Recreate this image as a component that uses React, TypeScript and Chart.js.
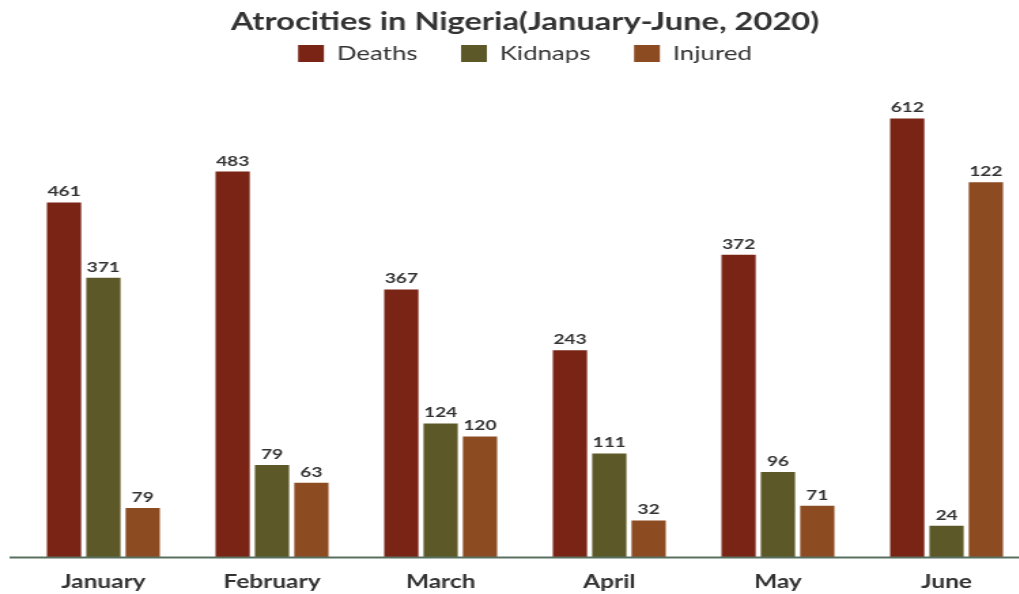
import React, { useEffect, useRef } from "react";
import { Chart, registerables } from "chart.js";

Chart.register(...registerables);

// ---- data ----
const categories = ["January", "February", "March", "April", "May", "June"];
const seriesNames = ["Deaths", "Kidnaps", "Injured"];
const seriesColors = ["#7a2416", "#5d5827", "#8d4b22"];

// values printed above the bars
const deathsLabels = [461, 483, 367, 243, 372, 612];
const kidnapsLabels = [371, 79, 124, 111, 96, 24];
const injuredLabels = [79, 63, 120, 32, 71, 122];

// bar lengths as drawn in the reference (they are not proportional to the
// printed values) in deaths-equivalent units
const deathsBars = [461, 501, 348, 269, 393, 570];
const kidnapsBars = [363, 120, 174, 135, 111, 41];
const injuredBars = [64, 97, 157, 48, 67, 487];

const yMax = 629;

const STRETCH = 1.36;
const W0 = 772;
const H0 = 594;

const valueLabels = [deathsLabels, kidnapsLabels, injuredLabels];

const valueLabelPlugin = {
  id: "valueLabels",
  afterDatasetsDraw(chart: any) {
    const ctx = chart.ctx;
    ctx.save();
    ctx.font = "bold 14px Lato";
    ctx.fillStyle = "#333333";
    ctx.textAlign = "center";
    ctx.textBaseline = "alphabetic";
    chart.data.datasets.forEach((_ds: any, i: number) => {
      const meta = chart.getDatasetMeta(i);
      meta.data.forEach((bar: any, j: number) => {
        ctx.fillText(String(valueLabels[i][j]), bar.x, bar.y - 6);
      });
    });
    ctx.restore();
  },
};

const baselinePlugin = {
  id: "baseline",
  afterDatasetsDraw(chart: any) {
    const ctx = chart.ctx;
    const y = chart.chartArea.bottom;
    ctx.save();
    ctx.strokeStyle = "#587060";
    ctx.lineWidth = 2;
    ctx.beginPath();
    ctx.moveTo(7, y);
    ctx.lineTo(chart.width, y);
    ctx.stroke();
    ctx.restore();
  },
};

export default function App() {
  const ref = useRef<HTMLCanvasElement>(null);
  useEffect(() => {
    if (!ref.current) return;
    const barData = [deathsBars, kidnapsBars, injuredBars];
    const chart = new Chart(ref.current, {
      type: "bar",
      data: {
        labels: categories,
        datasets: seriesNames.map((name, i) => ({
          label: name,
          data: barData[i],
          backgroundColor: seriesColors[i],
          borderWidth: 0,
          categoryPercentage: 0.7,
          barPercentage: 0.87,
        })),
      },
      options: {
        responsive: false,
        animation: false,
        layout: { padding: { left: 14, right: 14, top: 0, bottom: -13 } },
        plugins: {
          title: {
            display: true,
            text: "Atrocities in Nigeria(January-June, 2020)",
            color: "#333333",
            font: { family: "Lato", size: 24, weight: "bold" },
            padding: { top: 8, bottom: -24.8 },
          },
          legend: {
            display: true,
            labels: {
              color: "#333333",
              font: { family: "Lato", size: 19 },
              boxWidth: 19,
              boxHeight: 17,
              padding: 32,
            },
          },
          tooltip: { enabled: false },
        },
        scales: {
          x: {
            grid: { display: false, drawTicks: false },
            border: { display: false },
            ticks: {
              color: "#333333",
              font: { family: "Lato", size: 18, weight: "bold" },
              padding: 14,
            },
          },
          y: {
            display: false,
            min: 0,
            max: yMax,
          },
        },
      },
      plugins: [valueLabelPlugin, baselinePlugin],
    });
    return () => chart.destroy();
  }, []);

  return (
    <div
      style={{
        position: "fixed",
        left: 0,
        top: 0,
        width: 1019,
        height: 594,
        overflow: "hidden",
        background: "#ffffff",
      }}
    >
      <div
        style={{
          width: W0,
          height: H0,
          transform: `scaleX(${STRETCH})`,
          transformOrigin: "0 0",
        }}
      >
        <canvas ref={ref} width={W0} height={H0} />
      </div>
    </div>
  );
}
